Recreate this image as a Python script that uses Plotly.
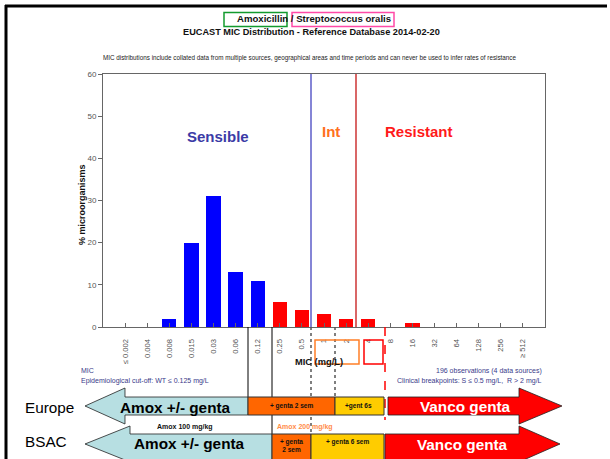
import plotly.graph_objects as go

# ---------------- data ----------------
mic_labels = ["≤ 0.002", "0.004", "0.008", "0.015", "0.03", "0.06", "0.12", "0.25", "0.5",
              "1", "2", "4", "8", "16", "32", "64", "128", "256", "≥ 512"]
pct_organisms = [0, 0, 2, 20, 31, 13, 11, 6, 4, 3, 2, 2, 0, 1, 0, 0, 0, 0, 0]
ecoff_label = "0.12"          # wild type cut-off (bars up to here drawn blue)
y_ticks = [0, 10, 20, 30, 40, 50, 60]

FONT = "Arial, 'Liberation Sans', sans-serif"
W, H = 610, 459
L, R, T, B = 103, 545, 74, 327


def px(x):
    return (x - L) / (R - L)


def py(y):
    return (B - y) / (B - T)


ecoff_idx = mic_labels.index(ecoff_label)
bar_colors = ["#0000ff" if i <= ecoff_idx else "#ff0000" for i in range(len(mic_labels))]

fig = go.Figure()
fig.add_trace(go.Bar(x=mic_labels, y=pct_organisms, marker=dict(color=bar_colors, line=dict(width=0)),
                     width=0.65, hoverinfo="x+y"))

shapes = []


def line(x0, y0, x1, y1, color, width=1, dash="solid"):
    shapes.append(dict(type="line", xref="paper", yref="paper", x0=px(x0), y0=py(y0), x1=px(x1), y1=py(y1),
                       line=dict(color=color, width=width, dash=dash)))


def rect(x0, y0, x1, y1, lc, fill="rgba(0,0,0,0)", lw=1.5):
    shapes.append(dict(type="rect", xref="paper", yref="paper", x0=px(x0), y0=py(y0), x1=px(x1), y1=py(y1),
                       line=dict(color=lc, width=lw), fillcolor=fill))


def poly(pts, fill, lc="#222", lw=0.8):
    path = "M " + " L ".join(f"{px(x):.5f},{py(y):.5f}" for x, y in pts) + " Z"
    shapes.append(dict(type="path", xref="paper", yref="paper", path=path, fillcolor=fill,
                       line=dict(color=lc, width=lw)))


# page border
line(5, 6, 607, 6, "#000", 3)
line(6, 5, 6, 470, "#000", 3)
# title boxes
rect(224, 12.5, 287, 26.5, "#139a2e", lw=1.5)
rect(292, 12.5, 394, 26.5, "#ff4aa8", lw=1.5)
# breakpoint lines in plot
line(311, T, 311, B, "#5c5cc8", 1.5)
line(356, T, 356, B, "#c00000", 1.2)
# lines below axis
line(248, B, 248, 397, "#000", 1)
line(272, B, 272, 434, "#000", 1)
line(311, B, 311, 434, "#555", 1.5, "dot")
line(335, B, 335, 397, "#555", 1.5, "dot")
line(385, B, 385, 420, "#ff0000", 1.5, "dash")
# boxes around tick labels
rect(315, 340, 359, 364, "#ff7f27", lw=1.5)
rect(364, 340, 383, 364, "#ff0000", lw=1.5)

LB = "#b7dfe2"
# Row 1 (Europe)
poly([(85, 406), (125, 388), (125, 397), (248, 397), (248, 415), (125, 415), (125, 424)], LB)
rect(248, 397, 335, 415, "#333", "#ff6600", lw=1)
rect(335, 397, 384, 415, "#333", "#ffcc00", lw=1)
poly([(388, 397), (519, 397), (519, 388), (562, 406), (519, 424), (519, 415), (388, 415)], "#ff0000")
# Row 2 (BSAC)
poly([(85, 444), (130, 426), (130, 434), (272, 434), (272, 470), (130, 470), (130, 462)], LB)
rect(272, 434, 311, 475, "#333", "#ff6600", lw=1)
rect(311, 434, 384, 475, "#333", "#ffcc00", lw=1)
poly([(385, 434), (519, 434), (519, 426), (560, 444), (519, 462), (519, 475), (385, 475)], "#ff0000")

anns = []


def text(t, x, y, size, color="#000", bold=False, xanchor="center", angle=0):
    if bold:
        t = f"<b>{t}</b>"
    anns.append(dict(text=t, xref="paper", yref="paper", x=px(x), y=py(y), xanchor=xanchor, yanchor="middle",
                     showarrow=False, textangle=angle, font=dict(family=FONT, size=size, color=color)))


text("Amoxicillin / Streptococcus oralis", 314, 19, 9.6, "#111", True)
text("EUCAST MIC Distribution - Reference Database 2014-02-20", 311, 32, 9.2, "#111", True)
text("MIC distributions include collated data from multiple sources, geographical areas and time periods "
     "and can never be used to infer rates of resistance", 310, 58, 6.3, "#222")
text("% microorganisms", 82, 205, 9, "#111", True, angle=-90)
text("Sensible", 218, 136, 15, "#3b3ba6", True)
text("Int", 331, 131, 15, "#ff7020", True)
text("Resistant", 419, 131, 15, "#ff1a1a", True)
text("MIC (mg/L)", 319, 362, 9.3, "#111", True)
text("MIC", 79, 371, 7, "#3a3a8a", xanchor="left")
text("Epidemiological cut-off: WT ≤ 0.125 mg/L", 79, 380.5, 7, "#3a3a8a", xanchor="left")
text("196 observations (4 data sources)", 544, 371, 7, "#3a3a8a", xanchor="right")
text("Clinical breakpoints: S ≤ 0.5 mg/L,  R &gt; 2 mg/L", 544, 380.5, 7, "#3a3a8a", xanchor="right")
text("Europe", 23, 407, 15.3, "#000", xanchor="left")
text("BSAC", 23, 441, 15.3, "#000", xanchor="left")
text("Amox +/- genta", 175, 407, 15.3, "#000", True)
text("Amox +/- genta", 189, 443, 15.3, "#000", True)
text("Vanco genta", 465, 406, 15.3, "#fff", True)
text("Vanco genta", 462, 444, 15.3, "#fff", True)
text("+ genta 2 sem", 291, 405.5, 6.5, "#111", True)
text("+gent 6s", 358, 405.5, 6.5, "#111", True)
text("Amox 100 mg/kg", 185, 427, 7, "#111", True)
text("Amox 200 mg/kg", 305, 427, 7, "#ff8c4a", True)
text("+ genta<br>2 sem", 291, 445, 6.5, "#111", True)
text("+ genta 6 sem", 347, 442, 6.5, "#111", True)

fig.update_layout(
    width=W, height=H, margin=dict(l=L, r=W - R, t=T, b=H - B, pad=0),
    paper_bgcolor="#fff", plot_bgcolor="#fff", showlegend=False,
    shapes=shapes, annotations=anns, bargap=0,
    font=dict(family=FONT),
    xaxis=dict(type="category", range=[-1, len(mic_labels)], categoryorder="array", categoryarray=mic_labels,
               showline=True, mirror=True, linecolor="#666", linewidth=1, showgrid=False, zeroline=False,
               ticks="inside", ticklen=4, tickcolor="#666", tickangle=-90, ticklabelstandoff=8,
               tickfont=dict(family=FONT, size=7.6, color="#555")),
    yaxis=dict(range=[0, 60], tickvals=y_ticks, showline=True, mirror=True, linecolor="#666", linewidth=1,
               showgrid=False, zeroline=False, ticks="outside", ticklen=4, tickcolor="#666",
               tickfont=dict(family=FONT, size=8, color="#555")),
)

fig.write_html("out.html", config={"displayModeBar": False},
               post_script="document.body.style.margin='0';")
